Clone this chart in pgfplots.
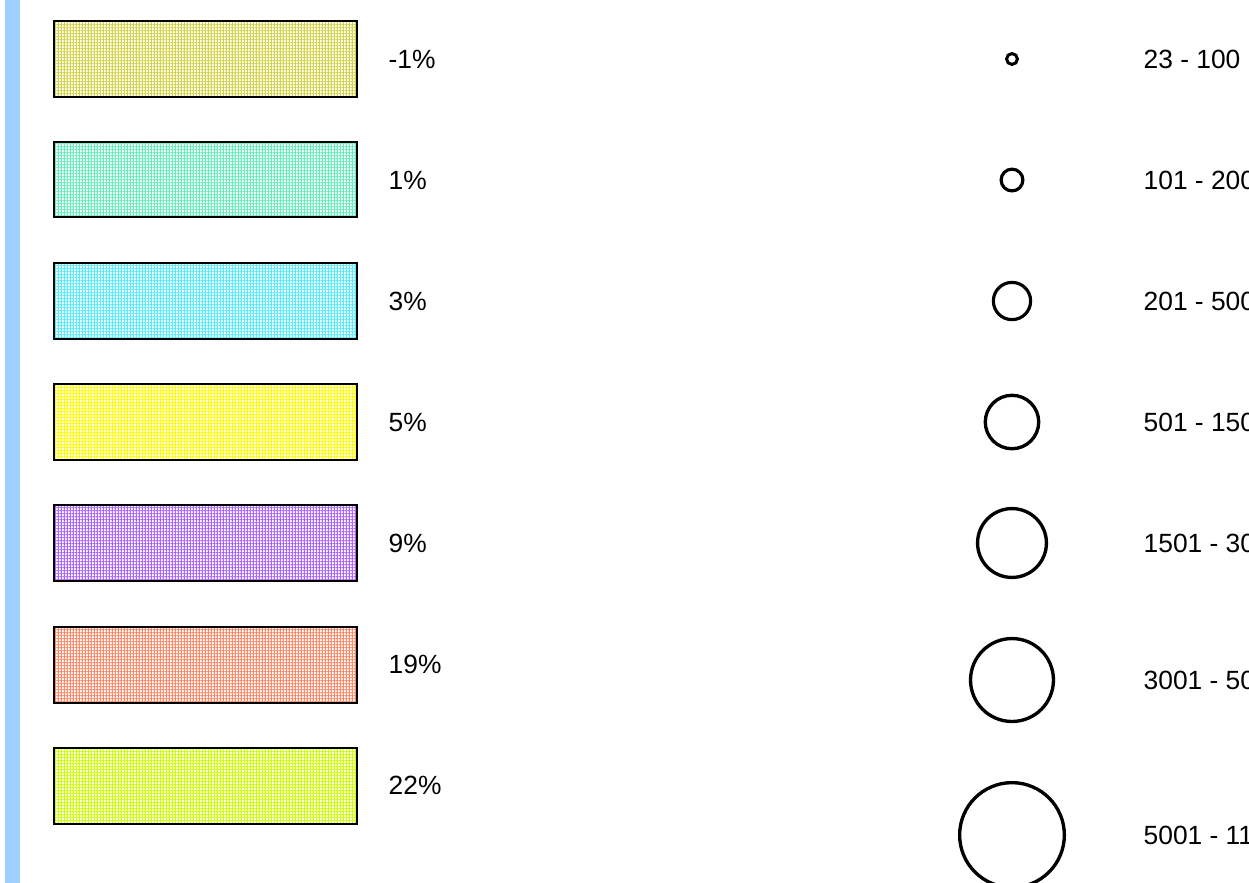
\documentclass[border=0pt]{standalone}
\usepackage{pgfplots}
\pgfplotsset{compat=1.18}
\usetikzlibrary{patterns.meta}
\usepackage{fontspec}
\setmainfont{Liberation Sans}
\definecolor{cA}{HTML}{D4D44A}
\definecolor{cB}{HTML}{66EEBB}
\definecolor{cC}{HTML}{55EEFF}
\definecolor{cD}{HTML}{FFFF00}
\definecolor{cE}{HTML}{AA66FF}
\definecolor{cF}{HTML}{FF8866}
\definecolor{cG}{HTML}{CCFF00}
\definecolor{sidebar}{HTML}{9FCFFF}
\tikzset{grid pat/.style={fill=white, postaction={pattern={Hatch[angle=0,distance=0.94pt,line width=0.42pt]}, pattern color=#1}},
  lab/.style={font=\fontsize{7.5pt}{9pt}\selectfont, anchor=west, inner sep=0pt}}
\begin{document}
\begin{tikzpicture}
\begin{axis}[
  width=12.49cm, height=8.82cm, scale only axis,
  xmin=0, xmax=1249, ymin=0, ymax=882, y dir=reverse,
  hide axis, clip=false,
]
% sidebar
\addplot[draw=none, fill=sidebar] coordinates {(5,-2) (20,-2) (20,884) (5,884)} --cycle;
% bars
\addplot[draw=black, line width=0.6pt, grid pat=cA] coordinates {(54,21) (357,21) (357,97) (54,97)} --cycle;
\addplot[draw=black, line width=0.6pt, grid pat=cB] coordinates {(54,142) (357,142) (357,217) (54,217)} --cycle;
\addplot[draw=black, line width=0.6pt, grid pat=cC] coordinates {(54,263) (357,263) (357,339) (54,339)} --cycle;
\addplot[draw=black, line width=0.6pt, grid pat=cD] coordinates {(54,384) (357,384) (357,460) (54,460)} --cycle;
\addplot[draw=black, line width=0.6pt, grid pat=cE] coordinates {(54,505) (357,505) (357,581) (54,581)} --cycle;
\addplot[draw=black, line width=0.6pt, grid pat=cF] coordinates {(54,627) (357,627) (357,703) (54,703)} --cycle;
\addplot[draw=black, line width=0.6pt, grid pat=cG] coordinates {(54,748) (357,748) (357,824) (54,824)} --cycle;
\node[lab] at (axis cs:388,59) {-1\%};
\node[lab] at (axis cs:388,180) {1\%};
\node[lab] at (axis cs:388,301) {3\%};
\node[lab] at (axis cs:388,422) {5\%};
\node[lab] at (axis cs:388,543) {9\%};
\node[lab] at (axis cs:388,664) {19\%};
\node[lab] at (axis cs:388,785) {22\%};
% circles
\addplot[only marks, mark=o, mark size=1.55pt, line width=0.85pt, black] coordinates {(1012,59)};
\addplot[only marks, mark=o, mark size=3.1pt, line width=0.9pt, black] coordinates {(1012,180)};
\addplot[only marks, mark=o, mark size=5.3pt, line width=0.9pt, black] coordinates {(1012,301)};
\addplot[only marks, mark=o, mark size=7.6pt, line width=0.95pt, black] coordinates {(1012,422)};
\addplot[only marks, mark=o, mark size=9.8pt, line width=0.95pt, black] coordinates {(1012,543)};
\addplot[only marks, mark=o, mark size=11.8pt, line width=0.95pt, black] coordinates {(1012,680)};
\addplot[only marks, mark=o, mark size=14.9pt, line width=0.95pt, black] coordinates {(1012,835)};
\node[lab] at (axis cs:1143,59) {23 - 100};
\node[lab] at (axis cs:1143,180) {101 - 200};
\node[lab] at (axis cs:1143,301) {201 - 500};
\node[lab] at (axis cs:1143,422) {501 - 1500};
\node[lab] at (axis cs:1143,543) {1501 - 3000};
\node[lab] at (axis cs:1143,680) {3001 - 5000};
\node[lab] at (axis cs:1143,835) {5001 - 11000};
\coordinate (bl) at (axis cs:0,882);
\coordinate (tr) at (axis cs:1249,0);
\end{axis}
\pgfresetboundingbox
\path[use as bounding box] (bl) rectangle (tr);
\end{tikzpicture}
\end{document}
